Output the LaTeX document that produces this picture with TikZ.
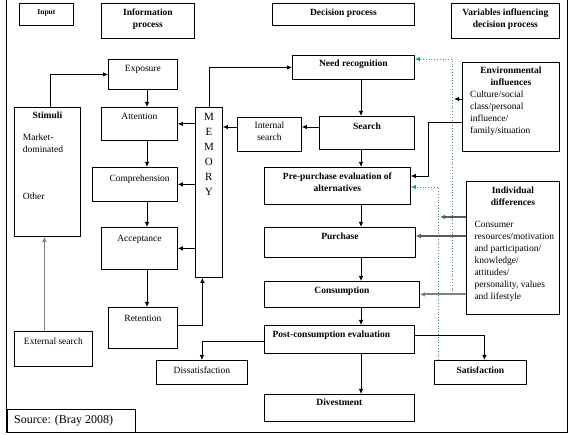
\documentclass[tikz,border=0pt]{standalone}
\usepackage{fontspec}
\setmainfont{Liberation Serif}
\usetikzlibrary{arrows.meta}
\definecolor{fbgreen}{HTML}{22A852}
\definecolor{sidegray}{HTML}{5A5A5A}
\definecolor{thickgray}{HTML}{808080}

\begin{document}
\begin{tikzpicture}[x=1pt, y=-1pt,
  box/.style={draw, line width=0.8pt, anchor=north west, inner sep=0pt},
  boxtext/.style={anchor=north, inner sep=0pt, align=center, font=\fontsize{9.5}{12}\selectfont},
  boldtext/.style={boxtext, font=\fontsize{9.5}{12}\selectfont\bfseries},
  bodytext/.style={anchor=north west, inner sep=0pt, align=left, font=\fontsize{9.5}{12}\selectfont},
  arr/.style={line width=0.8pt, -{Latex[length=5pt, width=4.5pt]}},
  sidearr/.style={arr, draw=sidegray, line width=1.1pt},
  fb/.style={draw=fbgreen, dotted, line width=0.8pt, -{Latex[length=5pt, width=4.5pt]}}]
\useasboundingbox (0,0) rectangle (576,435);
% === Frame ===
\draw[line width=0.8pt] (6.5,0) -- (6.5,432.5) -- (567,432.5) -- (567,0);

% === Column headers ===
\node[box, minimum width=54, minimum height=22,
  label={[boldtext, font=\fontsize{7.5}{9}\selectfont\bfseries, yshift=-6.7]north:Input}] (input) at (19,3) {};
\node[box, minimum width=93, minimum height=35,
  label={[boldtext, yshift=-5.5]north:Information\\process}] (info) at (101,3) {};
\node[box, minimum width=142, minimum height=22,
  label={[boldtext, yshift=-5.5]north:Decision process}] (decision) at (272,3) {};
\node[box, minimum width=108, minimum height=35,
  label={[boldtext, yshift=-5.5]north:Variables influencing\\decision process}] (variables) at (451,3) {};

% === Input and information process ===
\node[box, minimum width=66, minimum height=129,
  label={[boldtext, yshift=-4.8]north:Stimuli},
  label={[bodytext, xshift=8.7, yshift=-26.5]north west:Market-\\dominated\\[35pt]Other}] (stimuli) at (14,107) {};
\node[box, minimum width=78, minimum height=35,
  label={[boxtext, yshift=-7.2]north:External search}] (external) at (14,331) {};
\node[box, minimum width=69, minimum height=30,
  label={[boxtext, yshift=-6.5]north:Exposure}] (exposure) at (108,59) {};
\node[box, minimum width=76, minimum height=33,
  label={[boxtext, yshift=-6.5]north:Attention}] (attention) at (101,107) {};
\node[box, minimum width=85, minimum height=34,
  label={[boxtext, xshift=4.7, yshift=-8.2]north:Comprehension}] (comp) at (92,167) {};
\node[box, minimum width=76, minimum height=42,
  label={[boxtext, yshift=-8.2]north:Acceptance}] (accept) at (101,227) {};
\node[box, minimum width=69, minimum height=41,
  label={[boxtext, yshift=-7.8]north:Retention}] (retention) at (108,307) {};
\node[box, minimum width=27, minimum height=170,
  label={[boxtext, font=\fontsize{11}{15}\selectfont, yshift=-5.7]north:M\\E\\M\\O\\R\\Y}] (memory) at (195,107) {};
\node[box, minimum width=64, minimum height=34,
  label={[boxtext, yshift=-5.2]north:Internal\\search}] (internal) at (237,117) {};

% === Decision process ===
\node[box, minimum width=122, minimum height=24,
  label={[boldtext, yshift=-5.2]north:Need recognition}] (need) at (292,55) {};
\node[box, minimum width=95, minimum height=33,
  label={[boldtext, yshift=-7.2]north:Search}] (search) at (319,116) {};
\node[box, minimum width=146, minimum height=37,
  label={[boldtext, yshift=-5.5]north:Pre-purchase evaluation of\\alternatives}] (pre) at (264,167) {};
\node[box, minimum width=151, minimum height=30,
  label={[boldtext, yshift=-6.2]north:Purchase}] (purchase) at (264,227) {};
\node[box, minimum width=155, minimum height=26,
  label={[boldtext, yshift=-6.2]north:Consumption}] (cons) at (264,281) {};
\node[box, minimum width=150, minimum height=28,
  label={[boldtext, xshift=-8, yshift=-5.8]north:Post-consumption evaluation}] (post) at (264,325) {};
\node[box, minimum width=150, minimum height=27,
  label={[boldtext, yshift=-5.2]north:Divestment}] (divest) at (264,394) {};
\node[box, minimum width=91, minimum height=24,
  label={[boxtext, yshift=-6.5]north:Dissatisfaction}] (dissat) at (156,360) {};
\node[box, minimum width=92, minimum height=24,
  label={[boldtext, yshift=-6.5]north:Satisfaction}] (satis) at (434,360) {};

% === Variables influencing ===
\node[box, minimum width=97, minimum height=89,
  label={[boldtext, yshift=-5.2]north:Environmental\\influences},
  label={[bodytext, xshift=8, yshift=-28.8]north west:Culture/social\\class/personal\\influence/\\family/situation}] (env) at (462,62) {};
\node[box, minimum width=93, minimum height=133,
  label={[boldtext, yshift=-5.5]north:Individual\\differences},
  label={[bodytext, xshift=8.3, yshift=-40.2]north west:Consumer\\resources/motivation\\and participation/\\knowledge/\\attitudes/\\personality, values\\and lifestyle}] (ind) at (466,181) {};

\node[box, minimum width=128.5, minimum height=23.5,
  label={[bodytext, font=\fontsize{12}{14}\selectfont, xshift=7.5, yshift=-5.8]north west:{Source: (Bray 2008)}}] (source) at (6.5,409) {};

% === Information process arrows ===
\coordinate (ipline) at (147,0);
\draw[arr] ([xshift=3]stimuli.north) |- (exposure.west);
\draw[arr] (exposure.south -| ipline) -- (attention.north -| ipline);
\draw[arr] (attention.south -| ipline) -- (comp.north -| ipline);
\draw[arr] (comp.south -| ipline) -- (accept.north -| ipline);
\draw[arr] (accept.south -| ipline) -- (retention.north -| ipline);
\draw[arr] (memory.west |- attention.east) -- (attention.east);
\draw[arr] (memory.west |- comp.east) -- (comp.east);
\draw[arr] (memory.west |- accept.east) -- (accept.east);
\draw[arr] ([yshift=2.5]retention.east) -| ([xshift=-6.5]memory.south);
\draw[arr, draw=thickgray] ([xshift=-9]external.north) -- ([xshift=-9]external.north |- stimuli.south);
\draw[arr] (memory.north) |- (need.west);
\coordinate (isline) at (0,127);
\draw[arr] (search.west |- isline) -- (internal.east |- isline);
\draw[arr] (internal.west |- isline) -- (memory.east |- isline);

% === Decision process arrows ===
\coordinate (dpline) at (361,0);
\draw[arr] (need.south -| dpline) -- (search.north -| dpline);
\draw[arr] (search.south -| dpline) -- (pre.north -| dpline);
\draw[arr] (pre.south -| dpline) -- (purchase.north -| dpline);
\draw[arr] (purchase.south -| dpline) -- (cons.north -| dpline);
\draw[arr] (cons.south -| dpline) -- (post.north -| dpline);
\draw[arr] (post.south -| dpline) -- (divest.north -| dpline);
\draw[arr] ([yshift=-2]post.west) -| (dissat.north);
\draw[arr] ([yshift=4]post.east) -| ([xshift=4]satis.north);

% === Influences and feedback ===
\coordinate (gtop) at (452,59);
\coordinate (gbot) at (452,294);
\draw[fb] (gbot) -- (gtop) -- (need.east |- gtop);
\coordinate (gmid) at (438,187);
\draw[fb] (satis.north -| gmid) -- (gmid) -- (pre.east |- gmid);
\coordinate (envtip) at (454,99);
\draw[arr] (env.west |- envtip) -- (envtip);
\coordinate (envbend) at (428,122);
\coordinate (prein) at (428,176);
\draw[arr] (env.west |- envbend) -- (envbend) -- (prein) -- (pre.east |- prein);
\coordinate (indtip) at (440,217);
\draw[sidearr] (ind.west |- indtip) -- (indtip);
\coordinate (purchin) at (0,236);
\draw[sidearr] (ind.west |- purchin) -- (purchase.east |- purchin);
\draw[sidearr, draw=thickgray, line width=1.8pt] (ind.west |- cons.east) -- (cons.east);
\end{tikzpicture}
\end{document}
